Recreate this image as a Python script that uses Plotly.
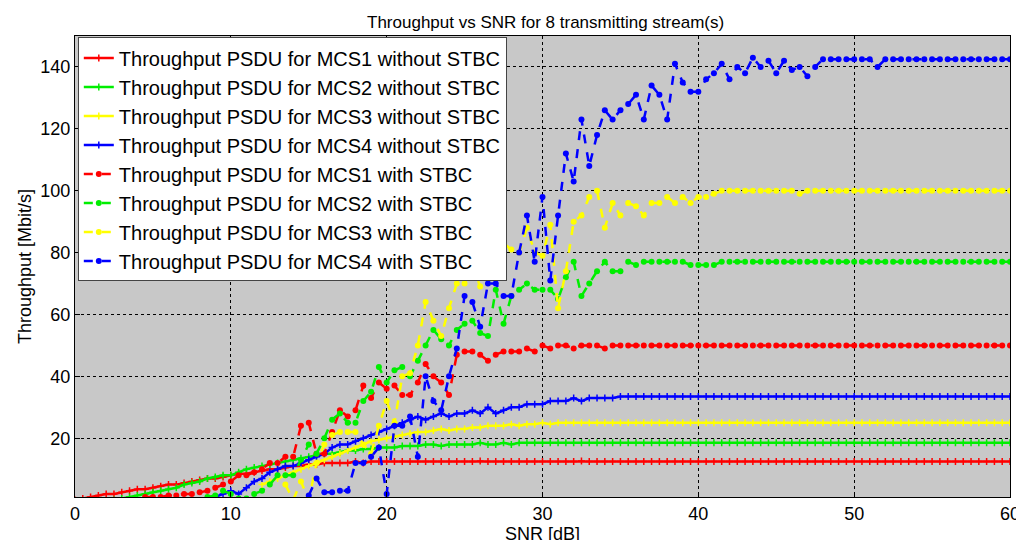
import numpy as np
import plotly.graph_objects as go

N = None
snr = np.arange(0, 60.5, 0.5)

mcs1_no_stbc = [0, 0.5, 1, 1.5, 2, 2, 2.5, 3, 3.5, 3.5,
                4, 4.5, 5, 5, 5.5, 6, 6.5, 7, 7, 7.5,
                8, 8.5, 8.5, 9, 9.5, 10, 10, 10.5, 11, 11,
                11.5, 11.5, 12, 12, 12, 12, 12.5, 12, 12.5, 12.5,
                12.5, 12.5, 12.5, 12.5, 12.5, 12.5, 12.5, 12.5, 12.5, 12.5,
                12.5, 12.5, 12.6, 12.5, 12.5, 12.5, 12.5, 12.5, 12.5, 12.5,
                12.5, 12.5, 12.5, 12.5, 12.5, 12.6, 12.5, 12.5, 12.5, 12.5,
                12.5, 12.5, 12.5, 12.5, 12.5, 12.5, 12.5, 12.5, 12.5, 12.5,
                12.5, 12.5, 12.5, 12.5, 12.5, 12.5, 12.5, 12.5, 12.5, 12.5,
                12.5, 12.5, 12.5, 12.5, 12.5, 12.5, 12.5, 12.5, 12.5, 12.5,
                12.5, 12.5, 12.5, 12.5, 12.5, 12.5, 12.5, 12.5, 12.5, 12.5,
                12.5, 12.5, 12.5, 12.5, 12.5, 12.5, 12.5, 12.5, 12.5, 12.5,
                12.5]
mcs2_no_stbc = [N, N, N, N, N, 0, 0.5, 1, 1.5, 2,
                2.5, 3, 3.5, 4, 5, 5.5, 6, 7, 7.5, 8,
                8, 9, 10, 10.5, 11, 11.5, 12, 12.5, 13, 13.5,
                14, 14.5, 15, 15, 15.5, 16, 16, 16.5, 16.5, 17,
                17, 17, 17.5, 17.5, 17.5, 18, 18, 17.5, 18, 18,
                18, 18, 18.5, 18, 18, 18.5, 18, 18.5, 18.5, 18.5,
                18.5, 18.5, 18.5, 18.5, 18.5, 18.5, 18.5, 18.5, 18.5, 18.5,
                18.5, 18.5, 18.5, 18.5, 18.5, 18.5, 18.5, 18.5, 18.5, 18.5,
                18.5, 18.5, 18.5, 18.5, 18.5, 18.5, 18.5, 18.5, 18.5, 18.5,
                18.5, 18.5, 18.5, 18.5, 18.5, 18.5, 18.5, 18.5, 18.5, 18.5,
                18.5, 18.5, 18.5, 18.5, 18.5, 18.5, 18.5, 18.5, 18.5, 18.5,
                18.5, 18.5, 18.5, 18.5, 18.5, 18.5, 18.5, 18.5, 18.5, 18.5,
                18.5]
mcs3_no_stbc = [N, N, N, N, N, N, N, N, N, N,
                N, N, N, N, N, N, N, N, N, N,
                N, N, N, N, 5, 6, 7, 8, 9, 10,
                11, 12, 13, 14, 15, 16, 17, 18, 19, 19.5,
                20, 20.5, 21, 21.5, 22, 22, 22.5, 23, 22.5, 23,
                23, 23.5, 23.5, 24, 24, 24, 24.5, 24, 24.5, 24.5,
                25, 24.5, 25, 25, 25, 25, 25, 25, 25, 25,
                25, 25, 25, 25, 25, 25, 25, 25, 25, 25,
                25, 25, 25, 25, 25, 25, 25, 25, 25, 25,
                25, 25, 25, 25, 25, 25, 25, 25, 25, 25,
                25, 25, 25, 25, 25, 25, 25, 25, 25, 25,
                25, 25, 25, 25, 25, 25, 25, 25, 25, 25,
                25]
mcs4_no_stbc = [N, N, N, N, N, N, N, N, N, N,
                N, N, N, N, N, N, N, 0, 1, 2,
                3, 2, 4, 6, 7, 9, 10, 11, 11, 12,
                13, 14, 15, 17, 18, 18, 19, 20, 21, 22,
                23, 24, 25, 26, 27, 26, 27, 28, 27, 28,
                28, 29, 28, 30, 28, 29, 30, 30, 31, 31,
                31, 32, 32, 32, 33, 32, 33, 33, 33, 33,
                33.5, 33.5, 33.5, 33.5, 33.5, 33.5, 33.5, 33.5, 33.5, 33.5,
                33.5, 33.5, 33.5, 33.5, 33.5, 33.5, 33.5, 33.5, 33.5, 33.5,
                33.5, 33.5, 33.5, 33.5, 33.5, 33.5, 33.5, 33.5, 33.5, 33.5,
                33.5, 33.5, 33.5, 33.5, 33.5, 33.5, 33.5, 33.5, 33.5, 33.5,
                33.5, 33.5, 33.5, 33.5, 33.5, 33.5, 33.5, 33.5, 33.5, 33.5,
                33.5]
mcs1_stbc = [N, N, N, N, N, N, N, N, N, 1,
             1, 1, 1.5, 1.5, 2, 2, 2.5, 3, 4, 5,
             6, 8, 8, 9, 10, 12, 12, 14, 14, 24,
             25, 15, 15, 22, 29, 27, 29, 37, 33, 38,
             36, 37, 34, 34, 38, 44, 40, 38, 34, 47,
             48, 48, 47, 45, 47, 48, 48, 48, 49, 48,
             50, 49, 50, 50, 49, 50, 50, 50, 49, 50,
             50, 50, 50, 50, 50, 50, 50, 50, 50, 50,
             50, 50, 50, 50, 50, 50, 50, 50, 50, 50,
             50, 50, 50, 50, 50, 50, 50, 50, 50, 50,
             50, 50, 50, 50, 50, 50, 50, 50, 50, 50,
             50, 50, 50, 50, 50, 50, 50, 50, 50, 50,
             50]
mcs2_stbc = [N, N, N, N, N, N, N, N, N, N,
             N, N, N, N, N, N, N, 1, 1.5, 3,
             2, 0.5, 0.5, 2, 3, 5, 8, 8, 8, 13,
             18, 15, 20, 26, 28, 25, 25, 32, 35, 43,
             38, 42, 43, 40, 45, 50, 55, 52, 50, 55,
             57, 58, 54, 53, 68, 57, 66, 68, 70, 68,
             68, 68, 65, 72, 77, 66, 70, 74, 77, 74,
             74, 77, 76, 77, 77, 77, 77, 77, 77, 76,
             76, 76, 76, 77, 77, 77, 77, 77, 77, 77,
             77, 77, 77, 77, 77, 77, 77, 77, 77, 77,
             77, 77, 77, 77, 77, 77, 77, 77, 77, 77,
             77, 77, 77, 77, 77, 77, 77, 77, 77, 77,
             77]
mcs3_stbc = [N, N, N, N, N, N, N, N, N, N,
             N, N, N, N, N, N, N, N, N, N,
             N, N, N, N, N, N, N, 5, 0, 6,
             0, 12, 18, 21, 22, 22, 22, 18, 15, 24,
             32, 25, 40, 41, 50, 64, 58, 53, 62, 70,
             70, 76, 69, 80, 77, 83, 81, 80, 88, 80,
             79, 89, 62, 74, 90, 92, 98, 100, 88, 96,
             92, 96, 95, 92, 96, 96, 98, 96, 98, 96,
             98, 98, 99, 100, 100, 100, 100, 100, 100, 100,
             100, 100, 100, 99, 100, 100, 100, 100, 100, 100,
             100, 100, 100, 100, 100, 100, 100, 100, 100, 100,
             100, 100, 100, 100, 100, 100, 100, 100, 100, 100,
             100]
mcs4_stbc = [N, N, N, N, N, N, N, N, N, N,
             N, N, N, N, N, N, N, N, N, N,
             N, N, N, N, N, N, N, N, N, N,
             1.5, 7, 2.5, 2.5, 3, 3, 12, 12, 14, 17,
             2, 24, 24, 27, 14, 40, 32, 29, 40, 49,
             66, 64, 56, 70, 70, 66, 66, 80, 92, 77,
             98, 71, 92, 112, 103, 123, 108, 118, 126, 123,
             126, 128, 131, 123, 134, 131, 123, 141, 135, 132,
             132, 136, 138, 141, 136, 140, 138, 143, 140, 142,
             138, 142, 139, 140, 137, 140, 142.5, 142.5, 142.5, 142.5,
             142.5, 142.5, 142.5, 140, 142.5, 142.5, 142.5, 142.5, 142.5, 142.5,
             142.5, 142.5, 142.5, 142.5, 142.5, 142.5, 142.5, 142.5, 142.5, 142.5,
             142.5]

colours = ["#ff0000", "#00ee00", "#ffff00", "#0000ff"]

fig = go.Figure()
without = [mcs1_no_stbc, mcs2_no_stbc, mcs3_no_stbc, mcs4_no_stbc]
with_stbc = [mcs1_stbc, mcs2_stbc, mcs3_stbc, mcs4_stbc]

for i, ys in enumerate(without):
    fig.add_trace(go.Scatter(
        x=snr, y=ys, mode="lines+markers",
        name=f"Throughput PSDU for MCS{i + 1} without STBC",
        line=dict(color=colours[i], width=2.5),
        marker=dict(symbol="cross-thin", size=5, line=dict(color=colours[i], width=1.5)),
    ))
for i, ys in enumerate(with_stbc):
    fig.add_trace(go.Scatter(
        x=snr, y=ys, mode="lines+markers",
        name=f"Throughput PSDU for MCS{i + 1} with STBC",
        line=dict(color=colours[i], width=2.5, dash="dash"),
        marker=dict(symbol="circle", size=6, color=colours[i]),
    ))

axis_style = dict(
    showline=True, linecolor="black", linewidth=1, mirror=True,
    ticks="inside", tickcolor="black", ticklen=5,
    showgrid=True, gridcolor="black", griddash="dot", gridwidth=1,
    zeroline=False, tickfont=dict(size=18, color="black"),
)

fig.update_layout(
    width=1024, height=540,
    title=dict(text="Throughput vs SNR for 8 transmitting stream(s)",
               x=0.525, y=0.985, font=dict(size=17, color="black")),
    font=dict(family="Liberation Sans, Arial, sans-serif", color="black"),
    paper_bgcolor="white", plot_bgcolor="#c8c8c8",
    margin=dict(l=67, r=19, t=28, b=47),
    xaxis=dict(range=[0, 60], dtick=10,
               title=dict(text="SNR [dB]", font=dict(size=18), standoff=0), **axis_style),
    yaxis=dict(range=[1, 150], tickvals=[20, 40, 60, 80, 100, 120, 140],
               title=dict(text="Throughput [Mbit/s]", font=dict(size=18), standoff=4), **axis_style),
    legend=dict(x=0.003, y=0.997, xanchor="left", yanchor="top",
                bgcolor="white", bordercolor="#444", borderwidth=1,
                font=dict(size=20, color="black"), tracegroupgap=0,
                itemwidth=30),
    showlegend=True,
)

fig.write_html("out.html")
